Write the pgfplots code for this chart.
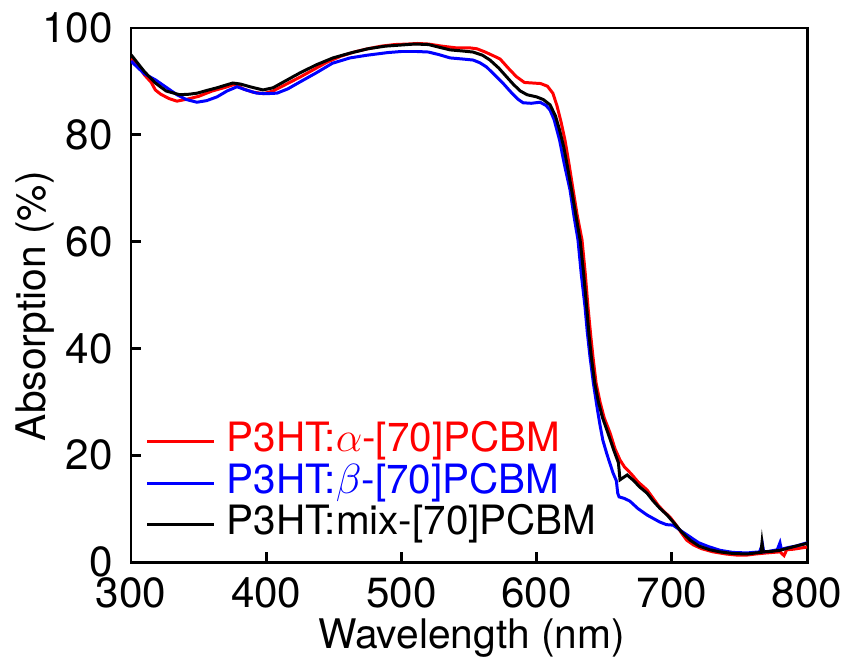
\documentclass[border=0pt]{standalone}
\usepackage{pgfplots}
\pgfplotsset{compat=1.18}
\usepackage{fontspec}
\setmainfont{TeX Gyre Heros}

% absorption spectra, values
\pgfplotstableread{
x y
300 94.2
305 93.0
310 91.2
315 89.8
318 88.4
322 87.6
328 86.8
334 86.3
342 86.7
350 87.2
360 88.2
370 88.9
377 89.5
383 88.6
390 88.0
398 87.7
405 88.2
415 89.5
425 90.8
435 92.2
445 93.6
455 94.7
465 95.5
475 96.1
485 96.6
495 96.9
505 97.0
512 97.1
520 97.0
530 96.6
540 96.3
550 96.3
556 96.1
562 95.5
568 94.8
573 94.2
579 92.5
585 90.9
591 89.8
597 89.7
603 89.6
608 89.1
612 87.8
615 85.5
618 82.5
621 79.0
624 74.5
627 69.7
630 65.0
633.6 60.3
636 54.0
638 47.8
640 42.5
641.7 38.4
644 33.5
646.9 30.0
650 27.0
654.3 24.2
658 21.2
661.7 19.1
665 17.8
670 16.5
675 15.0
681.7 13.5
686 12.0
690 10.6
694 9.5
698.7 8.4
703 7.0
707 5.5
711 4.1
716 3.2
722 2.5
730.5 1.9
740 1.5
748 1.3
755.6 1.3
762 1.5
770 1.7
775 1.8
780 1.9
783 1.2
785 2.3
790 2.4
795 2.6
800 2.8
}\redtable

\pgfplotstableread{
x y
300 93.8
305 92.6
310 91.4
318 90.3
326 88.9
334 87.5
341 86.6
348.8 86.1
356 86.4
363.6 87.1
371 88.2
378.4 89.0
385 88.4
393 87.8
400 87.7
408 87.8
416 88.6
425 89.9
437 91.6
449 93.4
462 94.4
474.5 94.9
490 95.4
500 95.6
511.5 95.6
520 95.5
528 95.0
536 94.4
545 94.2
553 94.0
558 93.5
563 92.7
569 91.2
575 89.7
581 88.0
586 86.7
590 86.0
596 85.9
602.5 86.1
607 85.5
610 84.6
613 82.8
615 80.9
617 79.0
620.5 74.5
624.7 69.7
627.5 65.0
630.6 60.3
633 54.0
635.8 47.8
637.5 43.0
639.5 38.4
642 33.5
644.7 29.0
647 25.5
649 22.8
652 20.2
656.5 16.7
659 15.2
660 12.9
661 12.2
665 11.9
669 11.4
675 10.0
681.7 8.8
686 8.2
691 7.5
696 7.0
701 6.9
707 5.8
713.5 4.7
720 3.6
727 2.9
735.6 2.2
745 1.8
755.6 1.7
760 1.8
765 1.9
767 3.4
768 1.9
772 2.0
778 2.3
780 3.6
781 2.4
786 2.7
792 3.0
796 3.3
800 3.6
}\bluetable

\pgfplotstableread{
x y
300 95.0
305 93.4
310 91.8
318 89.7
326 88.2
336 87.5
343 87.6
349 87.8
356 88.3
363.6 88.8
370 89.3
375.4 89.7
381 89.5
388 89.0
397.6 88.4
405 88.8
415 90.2
425 91.6
437 93.1
449.4 94.4
462 95.3
475 96.1
488 96.6
499 96.8
510 97.0
520 96.9
528 96.4
536 95.9
545 95.7
553 95.5
560 94.9
565.5 94.0
572 92.5
578 90.8
583 89.4
588 88.2
593 87.5
600 87.1
605 86.6
610 85.6
614 83.5
617 80.9
620 77.8
623 73.8
626 69.5
629 65.0
632.2 60.3
634.8 54.0
637 47.8
638.8 42.5
640.5 38.4
643 33.5
645.7 30.0
648.8 27.0
653 24.0
657 21.0
660.5 18.6
661.7 15.4
667 16.3
672 15.2
676 14.1
681.7 12.9
686 11.5
691 10.1
696.5 8.8
702 7.2
707 5.7
713.5 4.1
720 3.0
728 2.3
735.6 1.9
745 1.6
755.6 1.5
762 1.7
766 1.8
766.7 3.6
767.5 1.9
774 2.0
780 2.2
786 2.6
792 3.0
797 3.3
800 3.5
}\blacktable

\begin{document}
\begin{tikzpicture}
\begin{axis}[
    width=67.6mm, height=53.4mm,
    scale only axis,
    xmin=300, xmax=800,
    ymin=0, ymax=100,
    xtick={300,400,...,800},
    ytick={0,20,...,100},
    tick align=inside,
    major tick length=1mm,
    minor tick num=0,
    xtick pos=bottom, ytick pos=left,
    axis line style={line width=0.85pt},
    every tick/.style={line width=0.85pt, black},
    tick label style={font=\fontsize{12}{14}\selectfont},
    /pgf/number format/assume math mode=true,
    xticklabel style={yshift=-0.3mm},
    yticklabel style={xshift=-0.6mm},
    xlabel={Wavelength (nm)},
    ylabel={Absorption (\%)},
    xlabel style={font=\fontsize{11.6}{14}\selectfont, at={(axis description cs:0.504,-0.143)}, anchor=center},
    ylabel style={font=\fontsize{11.6}{14}\selectfont, at={(axis description cs:-0.142,0.479)}, anchor=center},
    legend style={draw=none, fill=none, at={(rel axis cs:0.021,0.027)}, anchor=south west,
        font=\fontsize{11.5}{14}\selectfont, row sep=-0.25mm,
        inner sep=0pt,
        nodes={inner sep=0.3mm, text height=2.9mm, text depth=0.9mm}},
    legend cell align=left,
    legend image code/.code={\draw[#1, line width=0.85pt] (0cm,0cm) -- (0.67cm,0cm);
        \path (0.75cm,0cm);},
]
\addplot[red, line width=0.85pt] table[x=x, y=y] {\redtable};
\addlegendentry{\textcolor{red}{P3HT:$\alpha$-[70]PCBM}}
\addplot[blue, line width=0.85pt] table[x=x, y=y] {\bluetable};
\addlegendentry{\textcolor{blue}{P3HT:$\beta$-[70]PCBM}}
\addplot[black, line width=0.85pt] table[x=x, y=y] {\blacktable};
\addlegendentry{P3HT:mix-[70]PCBM}
\end{axis}
\pgfresetboundingbox
\path (-13.1mm,-9.9mm) rectangle (71.6mm,56.2mm);
\end{tikzpicture}
\end{document}
